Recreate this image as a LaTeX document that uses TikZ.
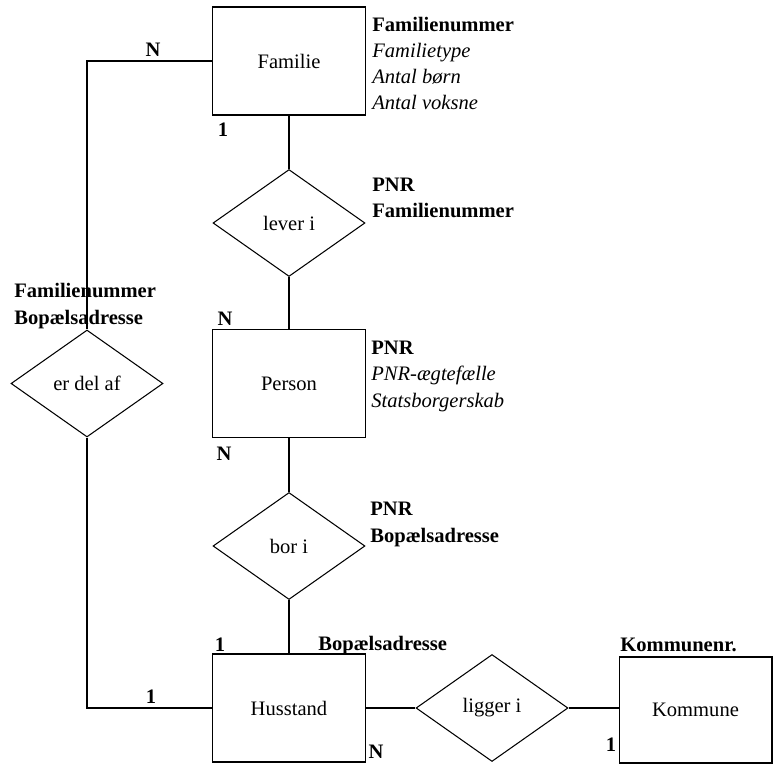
\documentclass[tikz,border=0pt]{standalone}
\usepackage{fontspec}
\setmainfont{Liberation Serif}
\usetikzlibrary{shapes.geometric,positioning}
\newcommand\erfont{\fontsize{11.7}{14.9}\selectfont}
\tikzset{
    entity/.style={draw,rectangle,line width=0.6pt,minimum width=3.06cm,minimum height=2.16cm,inner sep=0pt},
    relation/.style={draw,diamond,line width=0.6pt,minimum width=3.04cm,minimum height=2.14cm,inner sep=0pt},
    attr/.style={anchor=base west,align=left,inner sep=0pt},
    card/.style={anchor=base,inner sep=0pt,font=\erfont\bfseries},
    link/.style={line width=0.6pt},
}
\tikzstyle{every node}=[font=\erfont]

\begin{document}
\begin{tikzpicture}[x=0.02cm,y=-0.02cm]
        \useasboundingbox (0,0) rectangle (773,763);
        % entities and relations
        \node[entity] (familie) at (289,61) {Familie};
        \node[relation] (leveri) at (289,223) {lever i};
        \node[entity] (person) at (289,383.5) {Person};
        \node[relation] (bori) at (289,546) {bor i};
        \node[entity] (husstand) at (289,708) {Husstand};
        \node[relation] (erdelaf) at (87,383.5) {er del af};
        \node[relation] (liggeri) at (492,708) {ligger i};
        \node[entity,minimum height=2.12cm] (kommune) at (695.5,710) {Kommune};
        % connectors
        \draw[link] (familie) -- (leveri) -- (person) -- (bori) -- (husstand);
        \draw[link] (familie.west) -| (erdelaf.north);
        \draw[link] (erdelaf.south) |- (husstand.west);
        \draw[link] (husstand) -- (liggeri);
        \draw[link] (liggeri.east) -- (liggeri.east -| kommune.west);
        % attributes (base = last line)
        \node[attr] (famattr) at (372,110) {\textbf{Familienummer}\\\textit{Familietype}\\\textit{Antal børn}\\\textit{Antal voksne}};
        \node[attr] (leverattr) at (372,218) {\textbf{PNR}\\\textbf{Familienummer}};
        \node[attr] (personattr) at (371,407) {\textbf{PNR}\\\textit{PNR-ægtefælle}\\\textit{Statsborgerskab}};
        \node[attr] (borattr) at (370,542) {\textbf{PNR}\\\textbf{Bopælsadresse}};
        \node[attr] (erdelattr) at (14,324) {\textbf{Familienummer}\\\textbf{Bopælsadresse}};
        \node[attr] (husattr) at (318,650) {\textbf{Bopælsadresse}};
        \node[attr] (komattr) at (620,651) {\textbf{Kommunenr.}};
        % cardinalities
        \node[card] (cfamN) at (153,57) {N};
        \node[card] (cfam1) at (223,137) {1};
        \node[card] (cperN1) at (225,325) {N};
        \node[card] (cperN2) at (224,460) {N};
        \node[card] (chus1) at (220,651) {1};
        \node[card] (chus2) at (151,703) {1};
        \node[card] (chusN) at (376,758) {N};
        \node[card] (ckom1) at (611,751) {1};
\end{tikzpicture}
\end{document}
